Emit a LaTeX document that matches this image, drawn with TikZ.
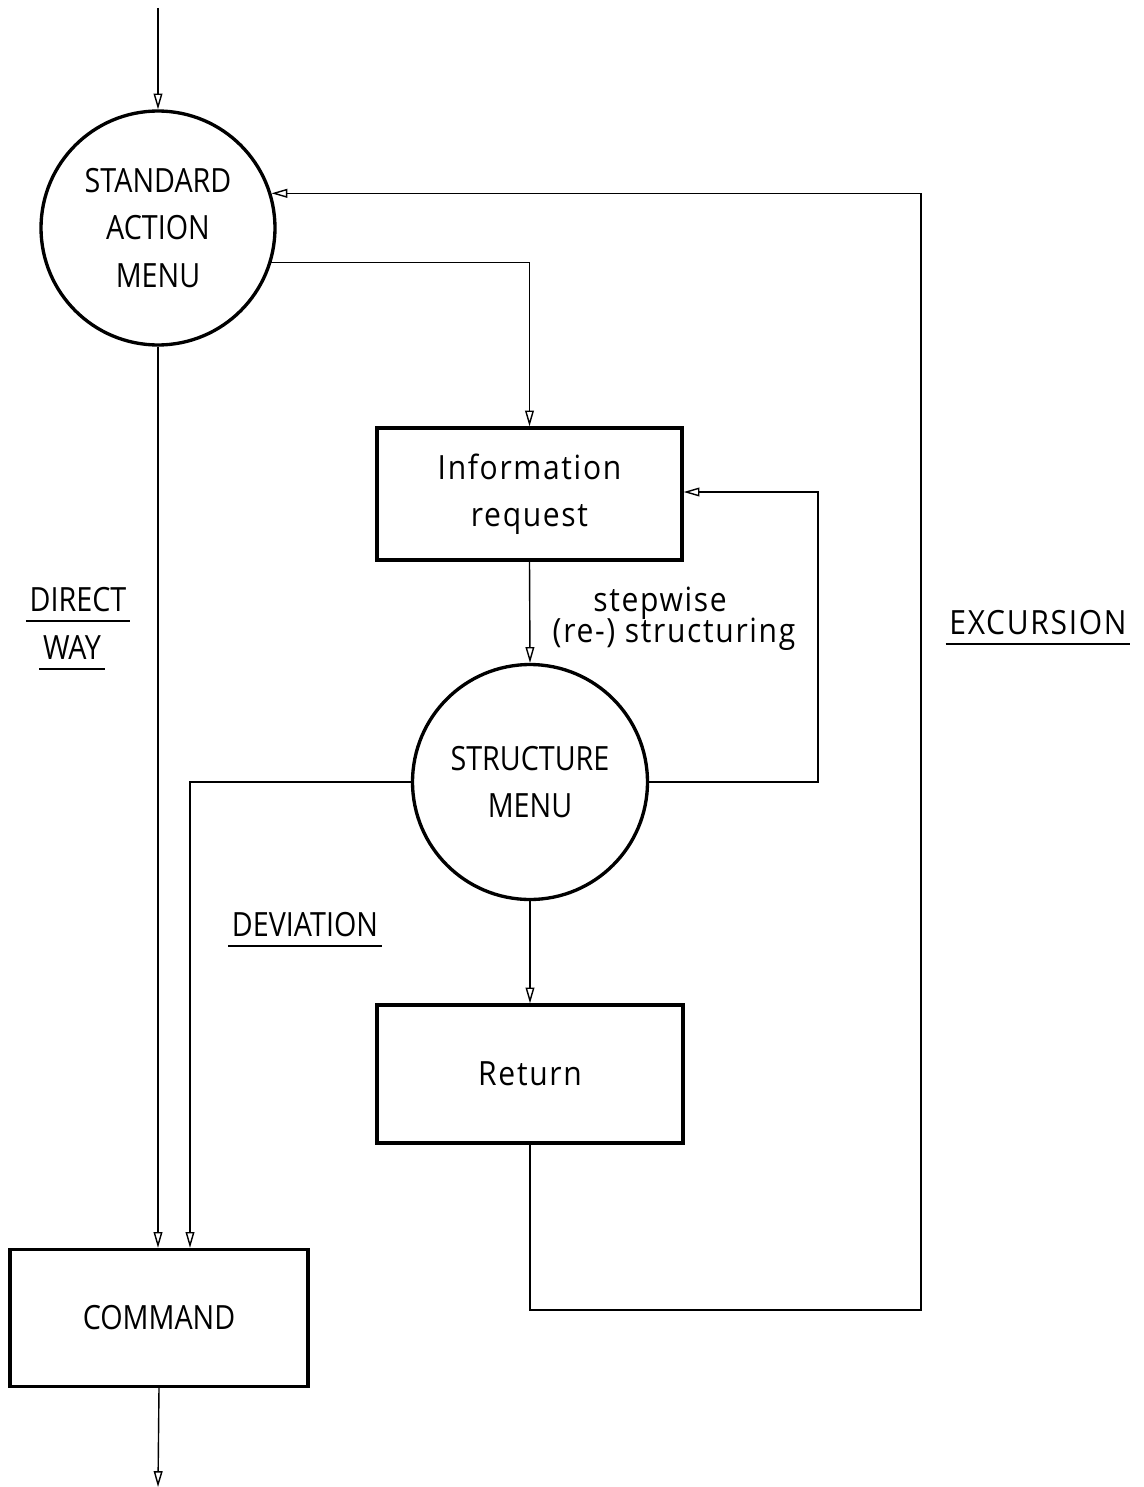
\documentclass[tikz,border=0pt]{standalone}
\usepackage{fontspec}
\setmainfont{Open Sans}[FakeStretch=0.86]
\newfontfamily\widefont{Open Sans}[FakeStretch=0.9,LetterSpace=5]
\usetikzlibrary{arrows.meta}
\begin{document}
\begin{tikzpicture}[x=0.02cm,y=-0.02cm,
  font=\fontsize{19}{27}\selectfont,
  menu/.style={circle,draw,line width=1.9pt,inner sep=0pt,align=center},
  stage/.style={rectangle,draw,line width=1.9pt,inner sep=0pt,align=center},
  flow/.style={line width=0.8pt,-{Triangle[open,length=9pt,width=5pt,line width=0.8pt]}},
  tag/.style={inner sep=2pt,align=center},
  rule/.style={line width=0.9pt}]
\useasboundingbox (0,0) rectangle (1143,1487);

% menus and stages
\node[menu,minimum size=4.68cm] (sam) at (158,228) {STANDARD\\ACTION\\MENU};
\node[stage,minimum width=6.1cm,minimum height=2.64cm,font=\widefont\fontsize{19}{27}\selectfont] (info) at (529.5,494) {Information\\request};
\node[menu,minimum size=4.7cm] (str) at (530,782) {STRUCTURE\\MENU};
\node[stage,minimum width=6.12cm,minimum height=2.76cm,font=\widefont\fontsize{19}{27}\selectfont] (ret) at (530,1074) {Return};
\node[stage,minimum width=5.96cm,minimum height=2.74cm] (cmd) at (159,1318) {COMMAND};

% free ends and corners
\coordinate (in) at (158,8);
\coordinate (out) at (158,1487);
\coordinate (exA) at (921,1310);
\coordinate (loopR) at (818,782);
\coordinate (devL) at (190,782);

% connectors
\draw[flow] (in) -- (sam.north);
\draw[flow] (sam.-17) -| (info.north);
\draw[flow] (info.south) -- (str.north);
\draw[flow] (str.south) -- (ret.north);
\draw[flow] (sam.south) -- (sam.south |- cmd.north);
\draw[flow] (cmd.south) -- (out);
\draw[flow] (str.east) -- (loopR) |- ([yshift=0.04cm]info.east);
\draw[flow] (str.west) -- (devL) -- (devL |- cmd.north);
\draw[flow] (ret.south) |- (exA) |- (sam.17);

% labels
\node[tag,font=\widefont\fontsize{19}{27}\selectfont] (stepA) at (660,603) {stepwise};
\node[tag,font=\widefont\fontsize{19}{27}\selectfont] (stepB) at (674,634) {(re-) structuring};

\node[tag] (dirA) at (78,600) {DIRECT};
\node[tag] (dirB) at (72,648) {WAY};
\draw[rule] ([yshift=-0.1cm]dirA.south west) -- ([yshift=-0.1cm]dirA.south east);
\draw[rule] ([yshift=-0.1cm]dirB.south west) -- ([yshift=-0.1cm]dirB.south east);

\node[tag] (dev) at (305,925) {DEVIATION};
\draw[rule] ([yshift=-0.1cm]dev.south west) -- ([yshift=-0.1cm]dev.south east);

\node[tag,font=\widefont\fontsize{19}{27}\selectfont] (exc) at (1038,623) {EXCURSION};
\draw[rule] ([yshift=-0.1cm]exc.south west) -- ([yshift=-0.1cm]exc.south east);
\end{tikzpicture}
\end{document}
